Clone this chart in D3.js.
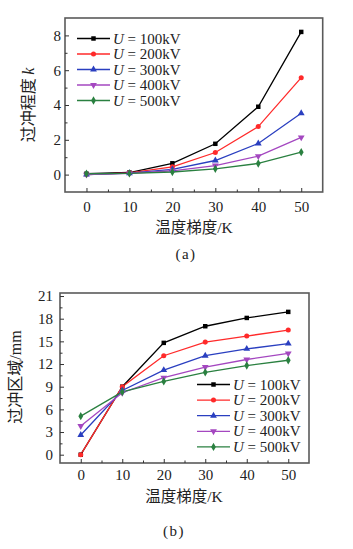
<!DOCTYPE html>
<html><head><meta charset="utf-8">
<script src="https://cdn.jsdelivr.net/npm/d3@7"></script>
<style>
body{margin:0;background:#fff;}
svg text{font-family:"Liberation Serif","Times New Roman","Noto Sans CJK SC",serif;}
.cjk{font-family:"Noto Sans CJK SC",sans-serif;}
</style></head>
<body><svg id="c" width="353" height="549"></svg>
<script>
const xValues = [0, 10, 20, 30, 40, 50];
const seriesNames = ["100kV", "200kV", "300kV", "400kV", "500kV"];
const seriesColors = ["#000000", "#ff2a2a", "#2a3fc0", "#a447c0", "#2a8040"];
const seriesMarkers = ["square", "circle", "triangle", "triangleDown", "diamond"];
// (a) overshoot degree k
const kValues100 = [0.05, 0.12, 0.65, 1.77, 3.9, 8.2];
const kValues200 = [0.0, 0.1, 0.45, 1.27, 2.76, 5.57];
const kValues300 = [0.0, 0.08, 0.3, 0.81, 1.79, 3.53];
const kValues400 = [0.0, 0.07, 0.22, 0.52, 1.06, 2.14];
const kValues500 = [0.05, 0.07, 0.15, 0.33, 0.64, 1.29];
// (b) overshoot region (mm)
const rValues100 = [0.0, 9.0, 14.8, 17.0, 18.1, 18.9];
const rValues200 = [0.0, 9.0, 13.1, 14.9, 15.7, 16.5];
const rValues300 = [2.6, 8.5, 11.2, 13.1, 14.0, 14.7];
const rValues400 = [3.8, 8.2, 10.2, 11.6, 12.6, 13.4];
const rValues500 = [5.1, 8.3, 9.7, 10.9, 11.8, 12.5];
const xTicks = [0, 10, 20, 30, 40, 50];
const xMinor = [5, 15, 25, 35, 45];
const kTicks = [0, 2, 4, 6, 8];
const kMinor = [1, 3, 5, 7];
const rTicks = [0, 3, 6, 9, 12, 15, 18, 21];
const rMinor = [1.5, 4.5, 7.5, 10.5, 13.5, 16.5, 19.5];

const svg = d3.select("#c");
const symMap = {square: d3.symbolSquare, circle: d3.symbolCircle, triangle: d3.symbolTriangle, diamond: d3.symbolDiamond};

function marker(g, type, x, y, color, size) {
  if (type === "triangleDown") {
    g.append("path").attr("d", d3.symbol(d3.symbolTriangle, size)())
      .attr("transform", `translate(${x},${y}) rotate(180)`).attr("fill", color);
  } else {
    g.append("path").attr("d", d3.symbol(symMap[type], size)())
      .attr("transform", `translate(${x},${y})`).attr("fill", color);
  }
}

function panel(opt) {
  const x = d3.scaleLinear().domain([-5, 55]).range([opt.left, opt.right]);
  const y = d3.scaleLinear().domain(opt.ydom).range([opt.bottom, opt.top]);
  const g = svg.append("g");
  opt.series.forEach((vals, i) => {
    const line = d3.line().x((d, j) => x(xValues[j])).y(d => y(d));
    g.append("path").datum(vals).attr("d", line).attr("fill", "none")
      .attr("stroke", seriesColors[i]).attr("stroke-width", 1.3);
  });
  opt.series.forEach((vals, i) => {
    vals.forEach((v, j) => marker(g, seriesMarkers[i], x(xValues[j]), y(v), seriesColors[i], 20));
  });
  g.append("rect").attr("x", opt.left).attr("y", opt.top)
    .attr("width", opt.right - opt.left).attr("height", opt.bottom - opt.top)
    .attr("fill", "none").attr("stroke", "#5a5a5a").attr("stroke-width", 1.6);
  const ax = g.append("g").attr("transform", `translate(0,${opt.bottom})`)
    .call(d3.axisBottom(x).tickValues(xTicks).tickSizeInner(-4).tickSizeOuter(0).tickPadding(opt.xPad));
  ax.select(".domain").remove();
  ax.selectAll("line").attr("stroke", "#333");
  ax.selectAll("text").attr("font-size", 15).attr("fill", "#222")
    .style("font-family", "'Liberation Serif',serif");
  const axm = g.append("g").attr("transform", `translate(0,${opt.bottom})`)
    .call(d3.axisBottom(x).tickValues(xMinor).tickSizeInner(-2.5).tickSizeOuter(0).tickFormat(""));
  axm.select(".domain").remove();
  axm.selectAll("line").attr("stroke", "#333");
  const ay = g.append("g").attr("transform", `translate(${opt.left},0)`)
    .call(d3.axisLeft(y).tickValues(opt.yTicks).tickSizeInner(-4).tickSizeOuter(0).tickPadding(opt.yPad));
  ay.select(".domain").remove();
  ay.selectAll("line").attr("stroke", "#333");
  ay.selectAll("text").attr("font-size", 15).attr("fill", "#222")
    .style("font-family", "'Liberation Serif',serif");
  const aym = g.append("g").attr("transform", `translate(${opt.left},0)`)
    .call(d3.axisLeft(y).tickValues(opt.yMinor).tickSizeInner(-2.5).tickSizeOuter(0).tickFormat(""));
  aym.select(".domain").remove();
  aym.selectAll("line").attr("stroke", "#333");
  seriesNames.forEach((n, i) => {
    const ly = opt.legY + i * opt.legDy;
    g.append("line").attr("x1", opt.legX).attr("x2", opt.legX + 33).attr("y1", ly).attr("y2", ly)
      .attr("stroke", seriesColors[i]).attr("stroke-width", 1.3);
    marker(g, seriesMarkers[i], opt.legX + 16.5, ly, seriesColors[i], 20);
    const t = g.append("text").attr("x", opt.legX + 36).attr("y", ly + 5).attr("font-size", 15).attr("fill", "#222");
    t.append("tspan").attr("font-style", "italic").text("U");
    t.append("tspan").text(" = " + n);
  });
  const xt = g.append("text").attr("x", opt.xtX).attr("y", opt.xtY).attr("text-anchor", "middle")
    .attr("font-size", 15.5).attr("fill", "#222");
  xt.append("tspan").attr("class", "cjk").text("温度梯度");
  xt.append("tspan").text("/K");
  const yt = g.append("text").attr("transform", `translate(${opt.ytX},${opt.ytY}) rotate(-90)`)
    .attr("text-anchor", "middle").attr("font-size", 16).attr("fill", "#222");
  opt.ytParts.forEach(p => {
    const s = yt.append("tspan").text(p.t);
    if (p.cjk) s.attr("class", "cjk");
    if (p.it) s.attr("font-style", "italic");
  });
  g.append("text").attr("x", opt.capX).attr("y", opt.capY).attr("text-anchor", "middle")
    .attr("font-size", 15).attr("letter-spacing", 1.5).attr("fill", "#222").text(opt.cap);
}

panel({
  left: 65, right: 322.7, top: 18, bottom: 192, ydom: [-1, 9],
  series: [kValues100, kValues200, kValues300, kValues400, kValues500],
  yTicks: kTicks, yMinor: kMinor, xPad: 9, yPad: 4,
  legX: 77, legY: 38.5, legDy: 15.5,
  xtX: 194, xtY: 233, ytX: 34, ytY: 105,
  ytParts: [{t: "过冲程度 ", cjk: true}, {t: "k", it: true}],
  capX: 186, capY: 259, cap: "(a)"
});
panel({
  left: 60, right: 309, top: 293, bottom: 463, ydom: [-1.1, 21.4],
  series: [rValues100, rValues200, rValues300, rValues400, rValues500],
  yTicks: rTicks, yMinor: rMinor, xPad: 6, yPad: 7,
  legX: 197, legY: 384.5, legDy: 15.6,
  xtX: 184, xtY: 502, ytX: 21, ytY: 377,
  ytParts: [{t: "过冲区域", cjk: true}, {t: "/mm"}],
  capX: 174, capY: 536, cap: "(b)"
});
</script></body></html>
